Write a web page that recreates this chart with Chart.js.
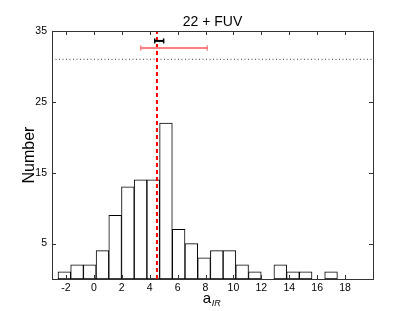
<!DOCTYPE html>
<html lang="en">
<head>
    <meta charset="UTF-8">
    <title>22 + FUV</title>
    <script src="https://cdn.jsdelivr.net/npm/chart.js"></script>
    <style>
        html, body { margin: 0; padding: 0; background: #ffffff; }
        #wrap { width: 414px; height: 311px; }
    </style>
</head>
<body>
    <div id="wrap"><canvas id="histChart"></canvas></div>
    <script>
        // histogram bins (edges) and counts
        const binEdges = [-2.57, -1.66, -0.75, 0.16, 1.07, 1.98, 2.89, 3.80, 4.71, 5.62, 6.53, 7.44, 8.35, 9.26, 10.17, 11.08, 11.99, 12.90, 13.81, 14.72, 15.63, 16.54, 17.45];
        const counts = [1, 2, 2, 4, 9, 13, 14, 14, 22, 7, 5, 3, 4, 4, 2, 1, 0, 2, 1, 1, 0, 1];

        // reference marks
        const medianX = 4.52;
        const blackBar = { y: 33.6, lo: 4.36, hi: 5.0 };
        const pinkBar = { y: 32.6, lo: 3.36, hi: 8.12 };
        const dottedY = 31.0;

        const xTicks = [-2, 0, 2, 4, 6, 8, 10, 12, 14, 16, 18];
        const yTicks = [5, 15, 25, 35];
        const xRange = [-3, 20];
        const yRange = [0, 35];

        const font = 'Liberation Sans, Arial, sans-serif';
        const tickLen = 4;

        const histData = counts.map((c, i) => ({ x: (binEdges[i] + binEdges[i + 1]) / 2, y: c }));

        // inward ticks on all four sides, the box, and the x label with subscript
        const frame = {
            id: 'frame',
            afterDraw(chart) {
                const { ctx, chartArea: a, scales: { x, y } } = chart;
                ctx.save();
                ctx.strokeStyle = '#333';
                ctx.lineWidth = 1;
                ctx.beginPath();
                xTicks.forEach(v => {
                    const px = Math.round(x.getPixelForValue(v)) + 0.5;
                    ctx.moveTo(px, a.bottom); ctx.lineTo(px, a.bottom - tickLen);
                    ctx.moveTo(px, a.top); ctx.lineTo(px, a.top + tickLen);
                });
                yTicks.forEach(v => {
                    const py = Math.round(y.getPixelForValue(v)) + 0.5;
                    ctx.moveTo(a.left, py); ctx.lineTo(a.left + tickLen, py);
                    ctx.moveTo(a.right, py); ctx.lineTo(a.right - tickLen, py);
                });
                ctx.stroke();
                ctx.strokeRect(Math.round(a.left) + 0.5, Math.round(a.top) + 0.5,
                    Math.round(a.right - a.left), Math.round(a.bottom - a.top));

                // x axis label: a with italic subscript IR
                ctx.fillStyle = '#000';
                ctx.textBaseline = 'alphabetic';
                ctx.font = '15px ' + font;
                const w1 = ctx.measureText('a').width;
                ctx.font = 'italic 9px ' + font;
                const w2 = ctx.measureText('IR').width;
                const cx = (a.left + a.right) / 2 - 1;
                const x0 = cx - (w1 + w2) / 2;
                ctx.font = '15px ' + font;
                ctx.textAlign = 'left';
                ctx.fillText('a', x0, 303);
                ctx.font = 'italic 9px ' + font;
                ctx.fillText('IR', x0 + w1 + 0.5, 305.5);
                ctx.restore();
            }
        };

        new Chart(document.getElementById('histChart').getContext('2d'), {
            data: {
                datasets: [
                    {
                        type: 'bar',
                        data: histData,
                        backgroundColor: '#ffffff',
                        borderColor: '#000000',
                        borderWidth: 1,
                        borderSkipped: false,
                        barPercentage: 1,
                        categoryPercentage: 1,
                        order: 3
                    },
                    {
                        type: 'line',
                        data: [{ x: xRange[0], y: dottedY }, { x: xRange[1], y: dottedY }],
                        borderColor: '#444444',
                        borderWidth: 1,
                        borderDash: [1, 2.5],
                        pointRadius: 0,
                        order: 2
                    },
                    {
                        type: 'line',
                        data: [{ x: medianX, y: yRange[0] }, { x: medianX, y: yRange[1] }],
                        borderColor: '#ff0000',
                        borderWidth: 2,
                        borderDash: [4, 3],
                        pointRadius: 0,
                        order: 1
                    },
                    {
                        type: 'line',
                        data: [{ x: pinkBar.lo, y: pinkBar.y }, { x: pinkBar.hi, y: pinkBar.y }],
                        borderColor: '#ff8080',
                        borderWidth: 2,
                        pointStyle: 'line',
                        rotation: 90,
                        pointRadius: 2.5,
                        pointBorderColor: '#ff8080',
                        pointBorderWidth: 1.5,
                        order: 0
                    },
                    {
                        type: 'line',
                        data: [{ x: blackBar.lo, y: blackBar.y }, { x: blackBar.hi, y: blackBar.y }],
                        borderColor: '#000000',
                        borderWidth: 2,
                        pointStyle: 'line',
                        rotation: 90,
                        pointRadius: 2.5,
                        pointBorderColor: '#000000',
                        pointBorderWidth: 1.5,
                        order: 0
                    }
                ]
            },
            options: {
                responsive: true,
                maintainAspectRatio: false,
                animation: false,
                layout: { padding: { left: 0, right: 41, top: 0, bottom: 0 } },
                plugins: {
                    legend: { display: false },
                    tooltip: { enabled: false },
                    title: {
                        display: true,
                        text: '22 + FUV',
                        color: '#000',
                        fullSize: false,
                        font: { family: font, size: 14, weight: 'normal', lineHeight: 1.2 },
                        padding: { top: 14, bottom: 0.2 }
                    }
                },
                scales: {
                    x: {
                        type: 'linear',
                        offset: false,
                        min: xRange[0],
                        max: xRange[1],
                        afterBuildTicks: s => { s.ticks = xTicks.map(v => ({ value: v })); },
                        afterFit: s => { s.height = 32; },
                        grid: { offset: false, drawOnChartArea: false, drawTicks: false },
                        border: { color: '#333' },
                        ticks: { color: '#000', padding: 3, maxRotation: 0, font: { family: font, size: 10.5 } }
                    },
                    y: {
                        min: yRange[0],
                        max: yRange[1],
                        afterBuildTicks: s => { s.ticks = yTicks.map(v => ({ value: v })); },
                        afterFit: s => { s.width = 52; },
                        grid: { drawOnChartArea: false, drawTicks: false },
                        border: { color: '#333' },
                        ticks: { color: '#000', padding: 5, font: { family: font, size: 10.5 } },
                        title: {
                            display: true,
                            text: 'Number',
                            color: '#000',
                            font: { family: font, size: 16, lineHeight: 1.2 },
                            padding: { top: 20, bottom: 0 }
                        }
                    }
                }
            },
            plugins: [frame]
        });
    </script>
</body>
</html>
